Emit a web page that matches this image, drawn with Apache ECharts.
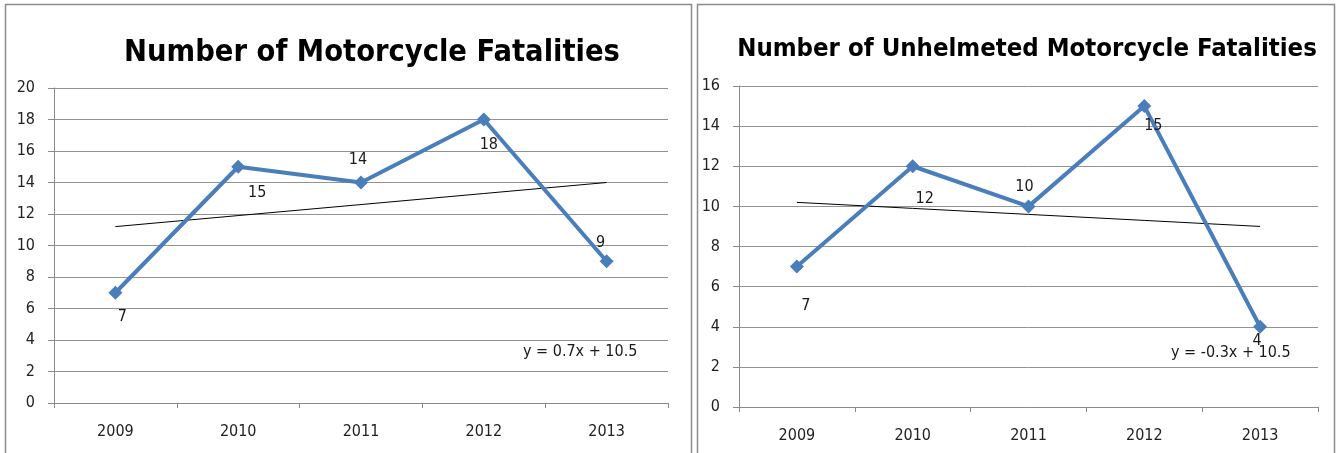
<!DOCTYPE html>
<html>
<head>
<meta charset="utf-8">
<script src="https://cdn.jsdelivr.net/npm/echarts@6/dist/echarts.min.js"></script>
<style>
  html, body { margin: 0; padding: 0; background: #fff; }
  #chart { width: 1337px; height: 453px; }
</style>
</head>
<body>
<div id="chart"></div>
<script>
// Yearly fatality counts
const years = ['2009', '2010', '2011', '2012', '2013'];
const allFatalities = [7, 15, 14, 18, 9];
const unhelmetedFatalities = [7, 12, 10, 15, 4];
const leftTicks = { min: 0, max: 20, interval: 2 };
const rightTicks = { min: 0, max: 16, interval: 2 };

// Per-point data-label offsets (px from the marker centre)
const leftLabelOffsets = [[7, 24], [19, 26], [-3, -23], [5, 25], [-6, -18]];
const rightLabelOffsets = [[9, 39], [12, 33], [-4, -20], [9, 20], [-3, 14]];

const FONT = "'Liberation Sans Narrow', 'DejaVu Sans Condensed', 'Liberation Sans', sans-serif";
const LINE_COLOR = '#4a7ebb';

// Least-squares line over x = 1..n
function linearFit(values) {
  const n = values.length;
  let sx = 0, sy = 0, sxy = 0, sxx = 0;
  values.forEach((v, i) => {
    const x = i + 1;
    sx += x; sy += v; sxy += x * v; sxx += x * x;
  });
  const slope = (n * sxy - sx * sy) / (n * sxx - sx * sx);
  const intercept = (sy - slope * sx) / n;
  return { slope, intercept, points: values.map((_, i) => slope * (i + 1) + intercept) };
}

function fmt(n) {
  return (Math.round(n * 10) / 10).toString();
}
function equation(fit) {
  return 'y = ' + fmt(fit.slope) + 'x + ' + fmt(fit.intercept);
}

const leftFit = linearFit(allFatalities);
const rightFit = linearFit(unhelmetedFatalities);

function withLabels(values, offsets) {
  return values.map((v, i) => ({
    value: v,
    label: { show: true, position: 'inside', offset: offsets[i] }
  }));
}

function xAxis(gridIndex) {
  return {
    type: 'category',
    gridIndex,
    data: years,
    boundaryGap: true,
    axisLine: { lineStyle: { color: '#8a8a8a', width: 1 } },
    axisTick: { show: true, length: 5, alignWithLabel: false, lineStyle: { color: '#8a8a8a' } },
    axisLabel: { color: '#222', fontFamily: FONT, fontSize: 16, margin: 21 },
    splitLine: { show: false }
  };
}

function yAxis(gridIndex, ticks) {
  return {
    type: 'value',
    gridIndex,
    min: ticks.min,
    max: ticks.max,
    interval: ticks.interval,
    axisLine: { show: true, lineStyle: { color: '#8a8a8a', width: 1 } },
    axisTick: { show: true, length: 6, lineStyle: { color: '#8a8a8a' } },
    axisLabel: { color: '#222', fontFamily: FONT, fontSize: 16, margin: 19 },
    splitLine: { show: true, lineStyle: { color: '#939393', width: 1 } }
  };
}

function dataSeries(idx, values, offsets) {
  return {
    type: 'line',
    xAxisIndex: idx,
    yAxisIndex: idx,
    data: withLabels(values, offsets),
    symbol: 'diamond',
    symbolSize: 14,
    lineStyle: { color: LINE_COLOR, width: 4 },
    itemStyle: { color: LINE_COLOR },
    label: { color: '#1a1a1a', fontFamily: FONT, fontSize: 16 },
    z: 3,
    animation: false
  };
}

function trendSeries(idx, fit) {
  return {
    type: 'line',
    xAxisIndex: idx,
    yAxisIndex: idx,
    data: fit.points,
    symbol: 'none',
    lineStyle: { color: '#000', width: 1 },
    z: 2,
    silent: true,
    animation: false
  };
}

const chart = echarts.init(document.getElementById('chart'), null, { renderer: 'canvas' });

chart.setOption({
  backgroundColor: '#fff',
  animation: false,
  title: [
    {
      text: 'Number of Motorcycle Fatalities',
      left: 367, top: 33, textAlign: 'center',
      textStyle: { fontFamily: FONT, fontWeight: 'bold', fontSize: 30.5, color: '#000' }
    },
    {
      text: 'Number of Unhelmeted Motorcycle Fatalities',
      left: 1022, top: 31, textAlign: 'center',
      textStyle: { fontFamily: FONT, fontWeight: 'bold', fontSize: 25.5, color: '#000' }
    }
  ],
  grid: [
    { left: 54, top: 88, width: 614, height: 315 },
    { left: 739, top: 86, width: 579, height: 321 }
  ],
  xAxis: [xAxis(0), xAxis(1)],
  yAxis: [yAxis(0, leftTicks), yAxis(1, rightTicks)],
  series: [
    trendSeries(0, leftFit),
    dataSeries(0, allFatalities, leftLabelOffsets),
    trendSeries(1, rightFit),
    dataSeries(1, unhelmetedFatalities, rightLabelOffsets)
  ],
  graphic: [
    { type: 'rect', shape: { x: 5.5, y: 4.5, width: 686, height: 452 },
      style: { fill: 'none', stroke: '#8c8c8c', lineWidth: 1.5 }, silent: true },
    { type: 'rect', shape: { x: 697.5, y: 4.5, width: 637, height: 452 },
      style: { fill: 'none', stroke: '#8c8c8c', lineWidth: 1.5 }, silent: true },
    { type: 'text', left: 523, top: 344,
      style: { text: equation(leftFit), fontFamily: FONT, fontSize: 16, fill: '#1a1a1a' } },
    { type: 'text', left: 1171, top: 345,
      style: { text: equation(rightFit), fontFamily: FONT, fontSize: 16, fill: '#1a1a1a' } }
  ]
});
</script>
</body>
</html>
